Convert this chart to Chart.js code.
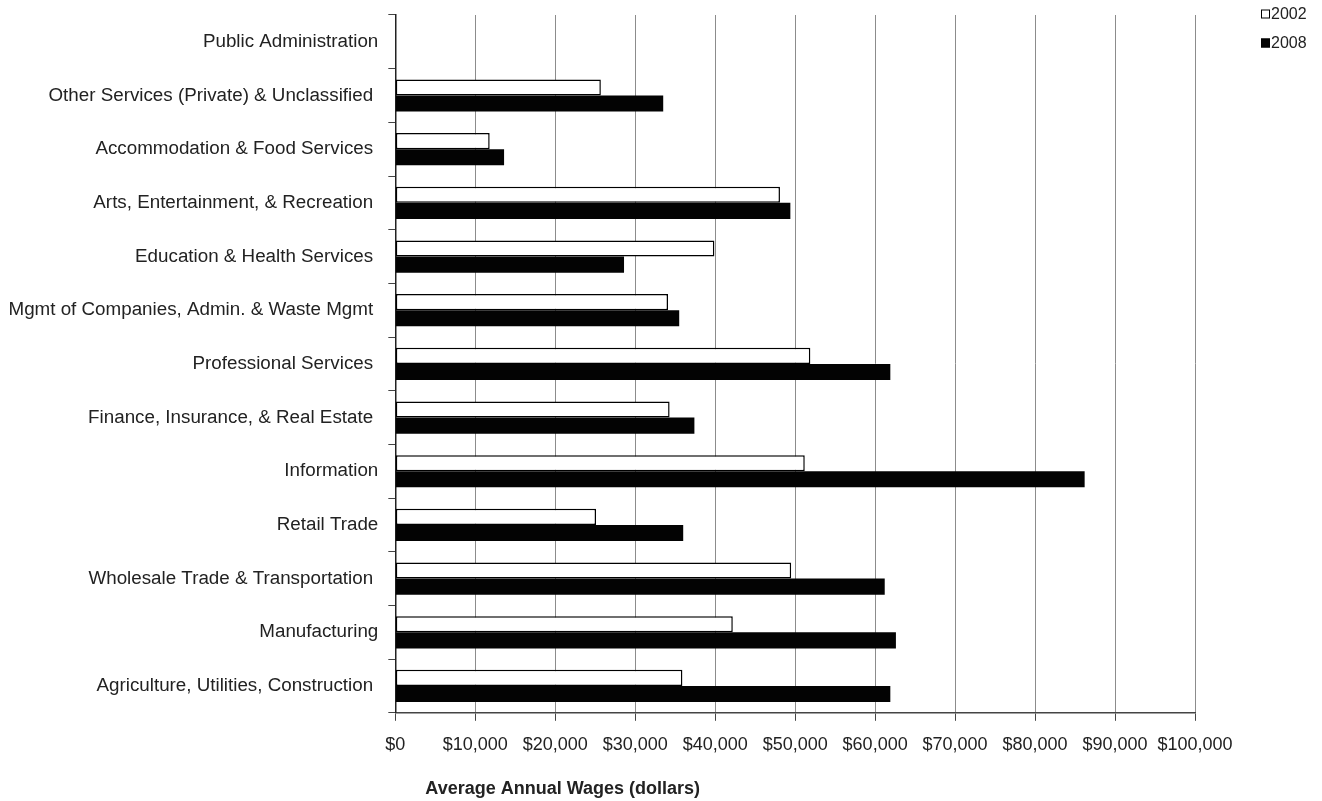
<!DOCTYPE html>
<html>
<head>
<meta charset="utf-8">
<script src="https://cdn.jsdelivr.net/npm/chart.js@4"></script>
<style>
  body { margin: 0; background: #fff; }
  #wages { display: block; }
</style>
</head>
<body>
<canvas id="wages" width="1322" height="801"></canvas>
<script>
var industries = [
  'Public Administration',
  'Other Services (Private) & Unclassified ',
  'Accommodation & Food Services ',
  'Arts, Entertainment, & Recreation ',
  'Education & Health Services ',
  'Mgmt of Companies, Admin. & Waste Mgmt ',
  'Professional Services ',
  'Finance, Insurance, & Real Estate ',
  'Information',
  'Retail Trade',
  'Wholesale Trade & Transportation ',
  'Manufacturing',
  'Agriculture, Utilities, Construction '
];
var wages2002 = [null, 25700, 11800, 48100, 39900, 34100, 51900, 34300, 51200, 25100, 49500, 42200, 35900];
var wages2008 = [null, 33500, 13600, 49400, 28600, 35500, 61900, 37400, 86200, 36000, 61200, 62600, 61900];
var seriesNames = ['2002', '2008'];
var xTicks = [0, 10000, 20000, 30000, 40000, 50000, 60000, 70000, 80000, 90000, 100000];

// small legend in the top right corner, read from the datasets
var cornerLegend = {
  id: 'cornerLegend',
  afterDraw: function(chart) {
    var ctx = chart.ctx;
    ctx.save();
    ctx.font = '16px "Liberation Sans", Arial, sans-serif';
    ctx.textBaseline = 'middle';
    chart.data.datasets.forEach(function(ds, i) {
      var y = 14 + i * 29;
      ctx.fillStyle = ds.backgroundColor;
      ctx.fillRect(1261, y - 4.5, 9, 9);
      ctx.strokeStyle = '#000';
      ctx.lineWidth = 1;
      ctx.strokeRect(1261.5, y - 4, 8, 8);
      ctx.fillStyle = '#222';
      ctx.fillText(ds.label, 1271, y + 1);
    });
    ctx.restore();
  }
};

var ctx = document.getElementById('wages').getContext('2d');
var chart = new Chart(ctx, {
  type: 'bar',
  data: {
    labels: industries,
    datasets: [
      {
        label: seriesNames[0],
        data: wages2002,
        backgroundColor: '#ffffff',
        borderColor: '#000000',
        borderWidth: 1.5,
        borderSkipped: false
      },
      {
        label: seriesNames[1],
        data: wages2008,
        backgroundColor: '#030303',
        borderColor: '#030303',
        borderWidth: 0
      }
    ]
  },
  options: {
    indexAxis: 'y',
    responsive: false,
    animation: false,
    layout: { padding: { top: 15, right: 127, bottom: 0, left: -1.5 } },
    datasets: { bar: { categoryPercentage: 0.6, barPercentage: 1.0 } },
    plugins: {
      legend: { display: false },
      tooltip: { enabled: false }
    },
    scales: {
      x: {
        min: 0,
        max: 100000,
        afterBuildTicks: function(scale) {
          scale.ticks = xTicks.map(function(v) { return { value: v }; });
        },
        grid: {
          color: '#8c8c8c',
          lineWidth: 1,
          tickLength: 8,
          tickColor: '#444'
        },
        border: { color: '#444', width: 1.5 },
        ticks: {
          color: '#222',
          padding: 13,
          maxRotation: 0,
          font: { family: '"Liberation Sans", Arial, sans-serif', size: 18 },
          callback: function(v) { return '$' + Number(v).toLocaleString('en-US'); }
        },
        title: {
          display: true,
          align: 'start',
          text: '      Average Annual Wages (dollars)',
          color: '#222',
          padding: { top: 10, bottom: 1 },
          font: { family: '"Liberation Sans", Arial, sans-serif', size: 18, weight: 'bold' }
        }
      },
      y: {
        // labels sit in the middle of their bands, so no extra room above/below
        afterFit: function(scale) {
          scale.paddingTop = 0;
          scale.paddingBottom = 0;
        },
        grid: {
          offset: true,
          drawOnChartArea: false,
          tickLength: 7,
          tickColor: '#444'
        },
        border: { color: '#222', width: 1.5 },
        ticks: {
          color: '#222',
          padding: 10,
          autoSkip: false,
          font: { family: '"Liberation Sans", Arial, sans-serif', size: 18.8 }
        }
      }
    }
  },
  plugins: [cornerLegend]
});
</script>
</body>
</html>
